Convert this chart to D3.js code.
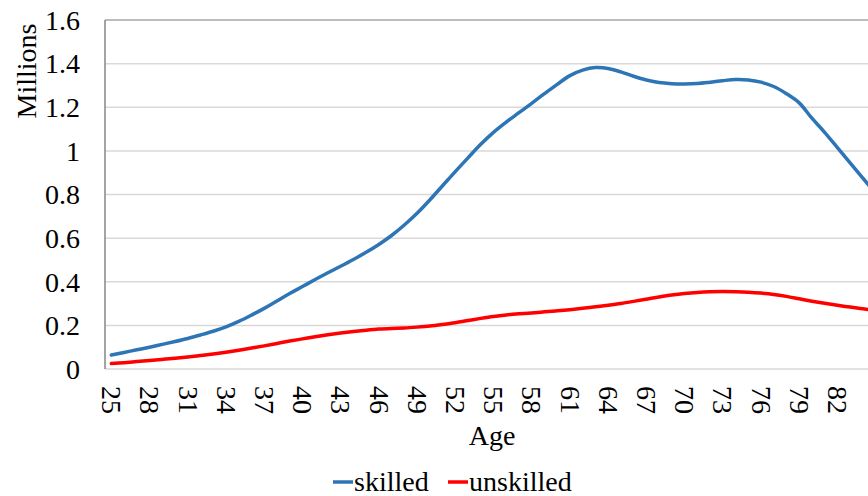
<!DOCTYPE html>
<html>
<head>
<meta charset="utf-8">
<script src="https://cdn.jsdelivr.net/npm/d3@7"></script>
<style>
    body { margin: 0; background: #fff; }
</style>
</head>
<body>
<div id="chart"></div>
<script>
// Ages on the category axis
const ages = d3.range(25, 86);

// Values in millions
const skilled = [
    0.064, 0.076, 0.088, 0.100, 0.113, 0.126, 0.140, 0.156, 0.173, 0.193,
    0.218, 0.247, 0.278, 0.312, 0.346, 0.378, 0.410, 0.441, 0.471, 0.502,
    0.535, 0.571, 0.612, 0.660, 0.714, 0.775, 0.840, 0.905, 0.968, 1.030,
    1.085, 1.132, 1.175, 1.218, 1.262, 1.305, 1.345, 1.370, 1.382, 1.378,
    1.362, 1.342, 1.325, 1.313, 1.308, 1.307, 1.309, 1.315, 1.322, 1.327,
    1.325, 1.315, 1.295, 1.262, 1.220, 1.150, 1.085, 1.015, 0.945, 0.875,
    0.805
];
const unskilled = [
    0.025, 0.029, 0.034, 0.039, 0.044, 0.049, 0.055, 0.062, 0.069, 0.077,
    0.086, 0.096, 0.106, 0.117, 0.128, 0.138, 0.148, 0.157, 0.165, 0.172,
    0.178, 0.183, 0.186, 0.188, 0.192, 0.197, 0.204, 0.212, 0.222, 0.232,
    0.241, 0.248, 0.253, 0.257, 0.262, 0.267, 0.272, 0.278, 0.285, 0.292,
    0.300, 0.310, 0.320, 0.330, 0.339, 0.346, 0.351, 0.354, 0.355, 0.354,
    0.352, 0.348, 0.342, 0.333, 0.322, 0.311, 0.301, 0.292, 0.284, 0.276,
    0.268
];

const xTicks = d3.range(25, 83, 3);
const yTicks = [0, 0.2, 0.4, 0.6, 0.8, 1, 1.2, 1.4, 1.6];

const series = [
    { name: "skilled", color: "#2e75b6", values: skilled },
    { name: "unskilled", color: "#ff0000", values: unskilled }
];

const width = 868, height = 496;
const margin = { top: 20, left: 105, bottom: 127 };
const bandW = 12.737;
const font = "'Liberation Serif', 'Times New Roman', serif";

const svg = d3.select("#chart")
    .append("svg")
    .attr("width", width)
    .attr("height", height)
    .attr("font-family", font)
    .attr("font-size", 28);

const x = d3.scaleBand()
    .domain(ages)
    .range([margin.left, margin.left + ages.length * bandW])
    .padding(0);

const y = d3.scaleLinear()
    .domain([0, 1.6])
    .range([height - margin.bottom, margin.top]);

const plotRight = margin.left + ages.length * bandW;

// gridlines
svg.append("g")
    .selectAll("line")
    .data(yTicks)
    .join("line")
    .attr("x1", margin.left)
    .attr("x2", plotRight)
    .attr("y1", d => y(d))
    .attr("y2", d => y(d))
    .attr("stroke", d => d === 1.6 ? "#a6a6a6" : "#d9d9d9")
    .attr("stroke-width", 1.5);

// left axis line
svg.append("line")
    .attr("x1", margin.left)
    .attr("x2", margin.left)
    .attr("y1", y(1.6))
    .attr("y2", y(0))
    .attr("stroke", "#868686")
    .attr("stroke-width", 1.5);

// y tick labels
svg.append("g")
    .selectAll("text")
    .data(yTicks)
    .join("text")
    .attr("x", 80)
    .attr("y", d => y(d))
    .attr("dy", "0.35em")
    .attr("text-anchor", "end")
    .text(d => d3.format("~g")(d));

// x tick labels, rotated
svg.append("g")
    .selectAll("text")
    .data(xTicks)
    .join("text")
    .attr("transform", d => `translate(${x(d) + x.bandwidth() / 2},386) rotate(90)`)
    .attr("dy", "0.33em")
    .attr("text-anchor", "start")
    .text(d => d);

// axis titles
svg.append("text")
    .attr("x", 492)
    .attr("y", 445)
    .attr("text-anchor", "middle")
    .text("Age");

svg.append("text")
    .attr("transform", "translate(36,71) rotate(-90)")
    .attr("text-anchor", "middle")
    .text("Millions");

// lines
const line = d3.line()
    .x((d, i) => x(ages[i]) + x.bandwidth() / 2)
    .y(d => y(d))
    .curve(d3.curveCatmullRom.alpha(0.5));

svg.append("g")
    .selectAll("path")
    .data(series)
    .join("path")
    .attr("d", d => line(d.values))
    .attr("fill", "none")
    .attr("stroke", d => d.color)
    .attr("stroke-width", 3.5)
    .attr("stroke-linecap", "round");

// legend
const legendPos = [333, 448];
const legend = svg.append("g")
    .selectAll("g")
    .data(series)
    .join("g")
    .attr("transform", (d, i) => `translate(${legendPos[i]},482)`);

legend.append("line")
    .attr("x1", 0)
    .attr("x2", 20)
    .attr("stroke", d => d.color)
    .attr("stroke-width", 3.5);

legend.append("text")
    .attr("x", 21)
    .attr("y", 9)
    .text(d => d.name);
</script>
</body>
</html>
